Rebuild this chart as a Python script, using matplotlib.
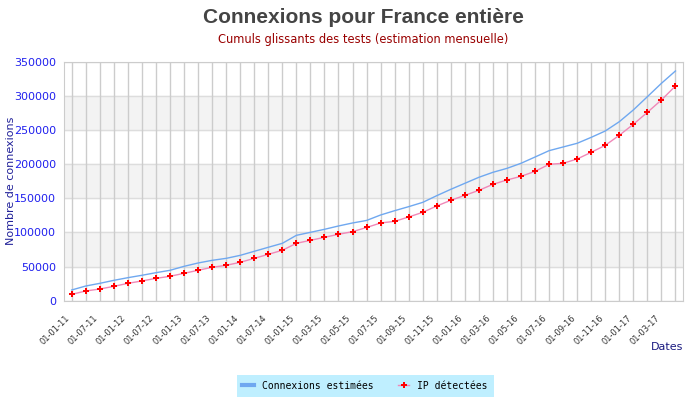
import matplotlib
matplotlib.use("Agg")
import matplotlib.pyplot as plt
from matplotlib.lines import Line2D

# one point per grid line: quarterly until 2015, monthly after
dates = ["01-01-11", "01-04-11", "01-07-11", "01-10-11",
         "01-01-12", "01-04-12", "01-07-12", "01-10-12",
         "01-01-13", "01-04-13", "01-07-13", "01-10-13",
         "01-01-14", "01-04-14", "01-07-14", "01-10-14",
         "01-01-15", "01-02-15", "01-03-15", "01-04-15", "01-05-15", "01-06-15",
         "01-07-15", "01-08-15", "01-09-15", "01-10-15", "01-11-15", "01-12-15",
         "01-01-16", "01-02-16", "01-03-16", "01-04-16", "01-05-16", "01-06-16",
         "01-07-16", "01-08-16", "01-09-16", "01-10-16", "01-11-16", "01-12-16",
         "01-01-17", "01-02-17", "01-03-17", "01-04-17"]

connexions = [15700, 21500, 25400, 29800, 33700, 37200, 41000, 44500,
              50300, 55200, 59100, 62000, 66400, 72300, 78200, 84000,
              95700, 100100, 104500, 109400, 113800, 117500, 125500, 131800,
              137700, 144000, 153800, 163100, 171900, 180700, 188000, 193800,
              201200, 210400, 219700, 225100, 230500, 239200, 248500, 262100,
              279300, 298700, 318300, 336400]

ip_detectees = [9300, 14200, 17100, 21000, 25400, 28900, 32700, 35700,
                40100, 44500, 48900, 51800, 56200, 62000, 67900, 73800,
                84000, 88400, 92800, 97200, 101100, 107200, 113800, 116200,
                122600, 129400, 138700, 147000, 154300, 161600, 170400, 176800,
                182100, 189400, 199700, 201200, 207500, 217300, 227500, 242200,
                258300, 275800, 293900, 314400]

y_ticks = [0, 50000, 100000, 150000, 200000, 250000, 300000, 350000]

fig = plt.figure(figsize=(6.94, 3.99), dpi=100)
ax = fig.add_axes([0.0927, 0.2464, 0.8919, 0.599])

xs = list(range(len(dates)))

# alternating grey bands
for k in range(1, len(y_ticks) - 1, 2):
    ax.axhspan(y_ticks[k], y_ticks[k + 1], color="#f3f3f3", zorder=0)
for t in y_ticks:
    ax.axhline(t, color="#dddddd", lw=1, zorder=1)
for x in xs:
    ax.axvline(x, color="#cccccc", lw=1, zorder=1)

ax.plot(xs, connexions, color="#6fa8f0", lw=1, zorder=3)
ax.plot(xs, ip_detectees, color="#f088b8", lw=1, zorder=3)
ax.plot(xs, ip_detectees, ls="none", marker="P", ms=4.6, color="#ff0000",
        markeredgewidth=0, zorder=4)

ax.set_xlim(-0.527, 43.56)
ax.set_ylim(0, 350000)
ax.set_yticks(y_ticks)
ax.set_yticklabels([str(t) for t in y_ticks], fontsize=8, color="#2020ee")
ax.set_xticks(xs)
ax.set_xticklabels([d if i % 2 == 0 else "" for i, d in enumerate(dates)],
                   rotation=45, ha="right", fontsize=6, color="#333333")
ax.tick_params(length=0)
ax.tick_params(axis="x", pad=9)
ax.tick_params(axis="y", pad=6)
for s in ax.spines.values():
    s.set_color("#cccccc")

fig.text(0.016, 0.546, "Nombre de connexions", fontsize=8, color="#222299",
         rotation=90, ha="center", va="center")
fig.text(0.985, 0.13, "Dates", fontsize=8, color="#1a1a80", ha="right", va="center")

fig.text(0.524, 0.957, "Connexions pour France entière", fontsize=15,
         fontweight="bold", color="#444444", ha="center", va="center",
         family="Liberation Sans")
fig.text(0.524, 0.9, "Cumuls glissants des tests (estimation mensuelle)",
         fontsize=8.3, color="#990000", ha="center", va="center")

handles = [Line2D([], [], color="#6fa8f0", lw=3),
           Line2D([], [], color="#f088b8", lw=1, marker="P", ms=4.6,
                  markerfacecolor="#ff0000", markeredgewidth=0)]
leg = fig.legend(handles, ["Connexions estimées", "IP détectées"], ncol=2,
                 loc="center", bbox_to_anchor=(0.526, 0.033),
                 prop={"family": "DejaVu Sans Mono", "size": 7},
                 facecolor="#bfefff", edgecolor="none", fancybox=False,
                 framealpha=1, handlelength=1.2, columnspacing=2.5,
                 borderpad=0.6)

fig.savefig("out.png", dpi=100)
